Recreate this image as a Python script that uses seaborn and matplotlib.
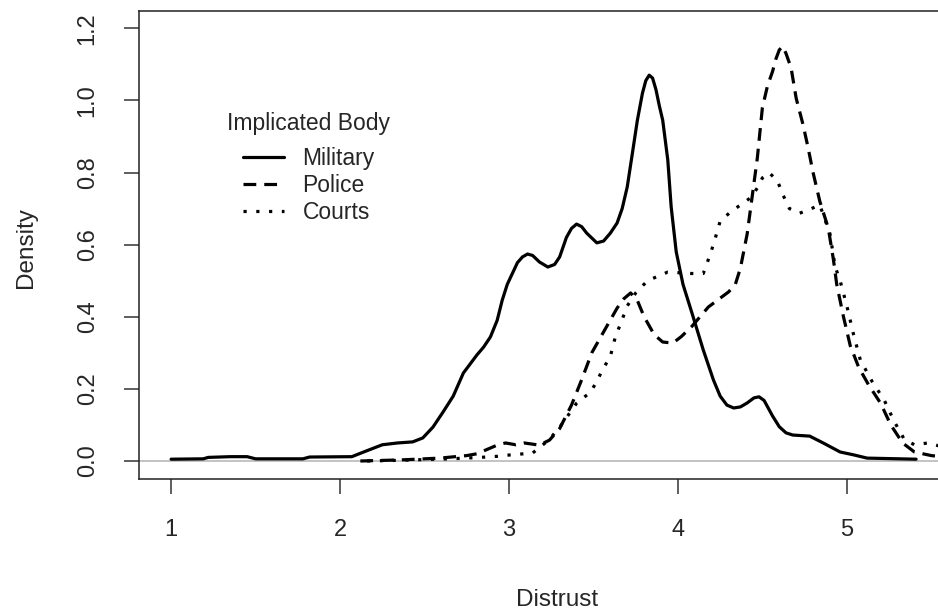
import pandas as pd
import matplotlib
matplotlib.use("Agg")
import matplotlib.pyplot as plt
import seaborn as sns

# density curves
military_x = [1.00, 1.19, 1.22, 1.35, 1.45, 1.50, 1.78, 1.82, 2.07, 2.14, 2.25, 2.34, 2.43, 2.49,
              2.55, 2.61, 2.67, 2.73, 2.81, 2.85, 2.89, 2.93, 2.96, 2.99, 3.05, 3.08, 3.11, 3.14,
              3.18, 3.23, 3.27, 3.30, 3.34, 3.37, 3.40, 3.43, 3.46, 3.52, 3.56, 3.60, 3.64, 3.67,
              3.70, 3.73, 3.76, 3.79, 3.81, 3.83, 3.85, 3.87, 3.89, 3.91, 3.94, 3.96, 3.99, 4.03,
              4.09, 4.15, 4.21, 4.25, 4.29, 4.33, 4.37, 4.41, 4.45, 4.48, 4.51, 4.56, 4.60, 4.64,
              4.68, 4.78, 4.86, 4.96, 5.04, 5.12, 5.41]
military_y = [0.005, 0.006, 0.010, 0.012, 0.012, 0.006, 0.006, 0.011, 0.012, 0.025, 0.045, 0.050,
              0.053, 0.064, 0.094, 0.136, 0.180, 0.244, 0.294, 0.316, 0.344, 0.390, 0.446, 0.490,
              0.550, 0.566, 0.574, 0.570, 0.552, 0.538, 0.545, 0.566, 0.620, 0.645, 0.657, 0.650,
              0.632, 0.605, 0.610, 0.632, 0.660, 0.700, 0.760, 0.852, 0.945, 1.020, 1.055, 1.070,
              1.062, 1.030, 0.985, 0.945, 0.835, 0.705, 0.580, 0.490, 0.400, 0.308, 0.225, 0.180,
              0.155, 0.147, 0.150, 0.161, 0.175, 0.178, 0.168, 0.125, 0.095, 0.078, 0.072, 0.069,
              0.050, 0.025, 0.017, 0.008, 0.005]

police_x = [2.12, 2.36, 2.59, 2.75, 2.81, 2.93, 2.98, 3.04, 3.09, 3.18, 3.24, 3.30, 3.37, 3.43,
            3.49, 3.56, 3.64, 3.68, 3.72, 3.76, 3.80, 3.86, 3.91, 3.97, 4.02, 4.08, 4.18, 4.30,
            4.34, 4.37, 4.41, 4.47, 4.50, 4.53, 4.56, 4.58, 4.60, 4.62, 4.64, 4.67, 4.70, 4.74,
            4.77, 4.80, 4.84, 4.89, 4.92, 4.94, 4.98, 5.02, 5.07, 5.13, 5.20, 5.26, 5.33, 5.40,
            5.50, 5.60]
police_y = [0.000, 0.003, 0.008, 0.015, 0.020, 0.044, 0.050, 0.045, 0.050, 0.044, 0.058, 0.090,
            0.155, 0.225, 0.300, 0.358, 0.424, 0.450, 0.466, 0.445, 0.400, 0.350, 0.330, 0.327,
            0.345, 0.372, 0.427, 0.469, 0.490, 0.535, 0.630, 0.840, 0.980, 1.040, 1.080, 1.115,
            1.140, 1.150, 1.130, 1.090, 1.006, 0.934, 0.870, 0.800, 0.720, 0.646, 0.560, 0.490,
            0.400, 0.320, 0.260, 0.210, 0.160, 0.100, 0.050, 0.025, 0.015, 0.010]

courts_x = [2.16, 2.36, 2.65, 2.83, 2.93, 3.01, 3.14, 3.24, 3.31, 3.40, 3.48, 3.52, 3.55, 3.60,
            3.63, 3.66, 3.70, 3.75, 3.82, 3.94, 4.08, 4.15, 4.17, 4.21, 4.25, 4.31, 4.37, 4.43,
            4.47, 4.50, 4.54, 4.59, 4.62, 4.66, 4.72, 4.78, 4.84, 4.90, 4.93, 4.96, 5.00, 5.04,
            5.08, 5.15, 5.22, 5.28, 5.34, 5.40, 5.48, 5.60]
courts_y = [0.000, 0.002, 0.006, 0.010, 0.013, 0.017, 0.022, 0.060, 0.100, 0.160, 0.190, 0.220,
            0.250, 0.290, 0.345, 0.380, 0.430, 0.466, 0.500, 0.524, 0.520, 0.520, 0.545, 0.600,
            0.665, 0.690, 0.710, 0.730, 0.757, 0.785, 0.800, 0.776, 0.740, 0.700, 0.687, 0.698,
            0.710, 0.630, 0.540, 0.500, 0.430, 0.350, 0.280, 0.220, 0.170, 0.110, 0.060, 0.045,
            0.050, 0.035]

bodies = ["Military", "Police", "Courts"]

df = pd.concat([
    pd.DataFrame({"Distrust": military_x, "Density": military_y, "body": "Military"}),
    pd.DataFrame({"Distrust": police_x, "Density": police_y, "body": "Police"}),
    pd.DataFrame({"Distrust": courts_x, "Density": courts_y, "body": "Courts"}),
])

sns.set_style("white")
plt.rcParams["font.family"] = ["Liberation Sans", "DejaVu Sans"]

fig = plt.figure(figsize=(9.38, 6.11), dpi=100)
ax = fig.add_axes([0.1482, 0.2160, 0.8753, 0.766])

# grey zero line like R's density plot
ax.axhline(0, color="#bebebe", lw=1.3, zorder=1)

sns.lineplot(data=df, x="Distrust", y="Density", style="body", style_order=bodies,
             dashes={"Military": "", "Police": (4, 2.5), "Courts": (1, 3)},
             color="black", linewidth=2.3, estimator=None, sort=True, ax=ax)

ax.set_xlim(0.81, 5.67)
ax.set_ylim(-0.05, 1.248)
ax.set_xticks([1, 2, 3, 4, 5])
ax.set_yticks([0.0, 0.2, 0.4, 0.6, 0.8, 1.0, 1.2])
ax.set_yticklabels(["0.0", "0.2", "0.4", "0.6", "0.8", "1.0", "1.2"], rotation=90, va="center")
ax.tick_params(axis="both", direction="out", length=11, width=1.1, color="#333333",
               labelsize=17, pad=18, left=True, bottom=True)

for side in ["left", "top", "bottom"]:
    ax.spines[side].set_color("#222222")
    ax.spines[side].set_linewidth(1.1)
ax.spines["right"].set_visible(False)

ax.set_xlabel("Distrust", fontsize=17.5)
ax.set_ylabel("Density", fontsize=17.5)
ax.xaxis.set_label_coords(0.5 - (0.5 * 0.8753 - (557 - 139) / 938) / 0.8753, -0.234)
ax.yaxis.set_label_coords(-0.124, 0.5 + ((611 - 248) / 611 - 0.2160 - 0.383) / 0.766)

leg = ax.get_legend()
handles = leg.legend_handles
labels = [t.get_text() for t in leg.get_texts()]
for h in handles:
    h.set_color("black")
    h.set_linewidth(2.3)
leg = ax.legend(handles, labels, title="Implicated Body", frameon=False, loc="upper left",
                bbox_to_anchor=(216 / 938, 1 - 101 / 611), bbox_transform=fig.transFigure,
                fontsize=16.5, title_fontsize=16.5, borderpad=0, handlelength=1.8,
                handletextpad=0.8, labelspacing=0.165)
# a bit more room between the title and the entries
leg._legend_box.sep = 8.5

fig.savefig("out.png", dpi=100)
